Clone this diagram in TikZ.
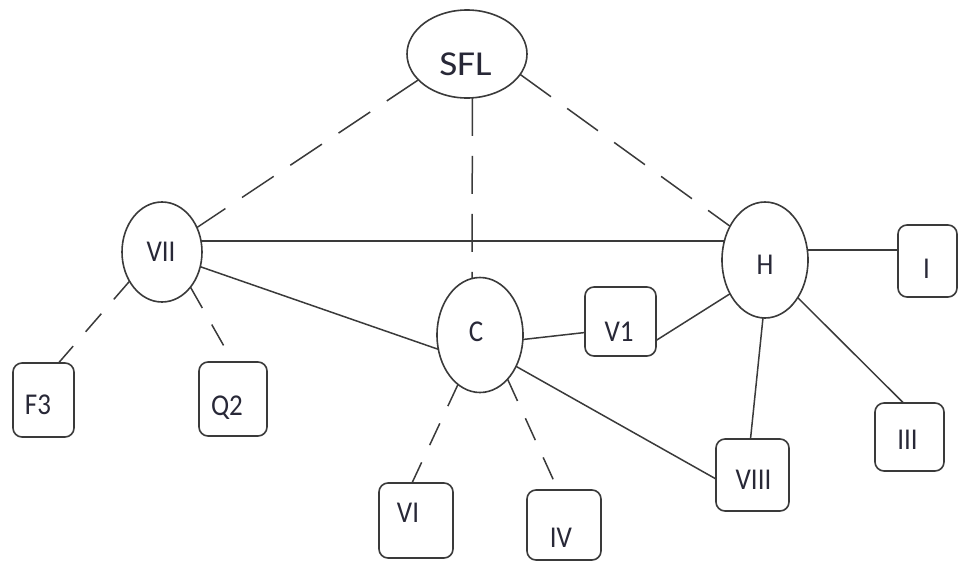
\documentclass[tikz,border=0pt]{standalone}
\usepackage{fontspec}
\setmainfont{Carlito}
\usetikzlibrary{shapes.geometric}
\definecolor{ink}{RGB}{58,58,58}
\definecolor{txt}{RGB}{40,40,55}
\newcommand{\tallt}[1]{\scalebox{1}[1.12]{#1}}
\begin{document}
\begin{tikzpicture}[x=1pt,y=-1pt,
  every node/.style={inner sep=0pt, outer sep=0pt},
  oval/.style={ellipse, draw=ink, line width=1.6pt, fill=white},
  box/.style={rectangle, rounded corners=9pt, draw=ink, line width=1.6pt, fill=white},
  lbl/.style={text=txt, font=\fontsize{27}{27}\selectfont},
  biglbl/.style={text=txt, font=\fontsize{35}{35}\selectfont},
  link/.style={draw=ink, line width=1.5pt},
  longdash/.style={link, dash pattern=on 38pt off 20pt},
  shortdash/.style={link, dash pattern=on 24pt off 19pt},
]
\useasboundingbox (0,0) rectangle (959,560);

% ellipses
\node[oval, minimum width=120pt, minimum height=88pt,
  label={[biglbl,xshift=-1.5pt,yshift=-10pt]center:\scalebox{1.12}[1]{SFL}}] (SFL) at (467,54) {};
\node[oval, minimum width=80pt, minimum height=100pt,
  label={[lbl,xshift=-1pt]center:\tallt{VII}}] (VII) at (162,252) {};
\node[oval, minimum width=86pt, minimum height=115pt,
  label={[lbl,xshift=-4pt,yshift=3pt]center:\tallt{C}}] (C) at (480,335) {};
\node[oval, minimum width=86pt, minimum height=116pt,
  label={[lbl,yshift=-5pt]center:\tallt{H}}] (H) at (765,260) {};

% boxes
\node[box, minimum width=59pt, minimum height=72pt,
  label={[lbl,xshift=-1pt,yshift=-8pt]center:\tallt{I}}] (I) at (927.5,261) {};
\node[box, minimum width=71pt, minimum height=69pt,
  label={[lbl,xshift=-1.5pt,yshift=-10.5pt]center:\tallt{V1}}] (V1) at (620.5,321.5) {};
\node[box, minimum width=61pt, minimum height=74pt,
  label={[lbl,xshift=-5.5pt,yshift=-5pt]center:\tallt{F3}}] (F3) at (43.5,400) {};
\node[box, minimum width=68pt, minimum height=74pt,
  label={[lbl,xshift=-6pt,yshift=-9pt]center:\tallt{Q2}}] (Q2) at (233,399) {};
\node[box, minimum width=74pt, minimum height=75pt,
  label={[lbl,xshift=-8pt,yshift=8pt]center:\tallt{VI}}] (VI) at (416,520.5) {};
\node[box, minimum width=74pt, minimum height=70pt,
  label={[lbl,xshift=-3pt,yshift=-13pt]center:\tallt{IV}}] (IV) at (564,525) {};
\node[box, minimum width=73pt, minimum height=72pt,
  label={[lbl,xshift=1pt,yshift=-5pt]center:\tallt{VIII}}] (VIII) at (752.5,475) {};
\node[box, minimum width=69pt, minimum height=68pt,
  label={[lbl,xshift=-2pt,yshift=-3pt]center:\tallt{III}}] (III) at (909.5,437) {};

% dashed links
\draw[longdash] (SFL.208) -- (VII.35.5);
\draw[longdash] (SFL.-83.5) -- (C.98);
\draw[longdash] (SFL.-21) -- (H.136.7);
\draw[shortdash] (VII.-138.6) -- ([xshift=15pt]F3.north);
\draw[shortdash] (VII.-51.7) -- (Q2.north);
\draw[shortdash] (C.246.5) -- ([xshift=-4pt]VI.north);
\draw[shortdash] (C.-58.1) -- ([xshift=-6pt]IV.north);

% solid links
\draw[link] (VII.16.7) -- ([xshift=2.6pt]VII.16.7 -| H.west);
\draw[link] (VII.-21.8) -- (C.199.2);
\draw[link] (C.-6.6) -- ([yshift=-11pt]V1.west);
\draw[link] ([yshift=-19pt]V1.east) -- (H.224.2);
\draw[link] (H.13) -- (H.13 -| I.west);
\draw[link] (H.-92) -- ([xshift=-2pt]VIII.north);
\draw[link] (H.-49) -- ([xshift=-6pt]III.north);
\draw[link] (C.-41.7) -- ([yshift=-4pt]VIII.west);
\end{tikzpicture}
\end{document}
